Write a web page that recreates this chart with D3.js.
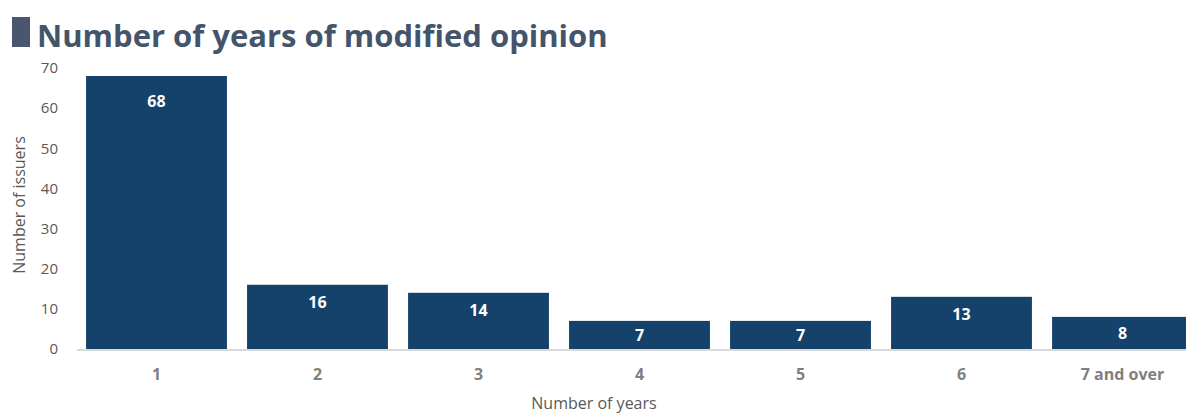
<!DOCTYPE html>
<html>
<head>
<meta charset="utf-8">
<script src="https://cdn.jsdelivr.net/npm/d3@7"></script>
<style>
  body { margin: 0; background: #fff; }
  svg { display: block; font-family: "Open Sans", sans-serif; }
</style>
</head>
<body>
<svg id="chart" width="1186" height="414"></svg>
<script>
const categories = ["1", "2", "3", "4", "5", "6", "7 and over"]
const issuers = [68, 16, 14, 7, 7, 13, 8]
const yTicks = [0, 10, 20, 30, 40, 50, 60, 70]

const width = 1186, height = 414
const svg = d3.select('#chart')

// titre
svg.append('rect')
    .attr('x', 12).attr('y', 17).attr('width', 18).attr('height', 30)
    .attr('fill', '#4a5670')
svg.append('text')
    .attr('x', 37).attr('y', 47)
    .attr('font-size', 31).attr('font-weight', 700)
    .attr('fill', '#44546a')
    .text('Number of years of modified opinion')

const x = d3.scaleBand()
    .domain(categories)
    .range([76, 1203])
    .paddingInner(0.125)
    .paddingOuter(0.0625)

const y = d3.scaleLinear()
    .domain([0, 70])
    .range([349, 68])

// barres
svg.append('g')
    .selectAll('rect')
    .data(issuers)
    .join('rect')
    .attr('x', (d, i) => x(categories[i]))
    .attr('y', d => y(d))
    .attr('width', x.bandwidth())
    .attr('height', d => y(0) - y(d))
    .attr('fill', '#15426a')

// étiquettes de valeur
svg.append('g')
    .selectAll('text')
    .data(issuers)
    .join('text')
    .attr('x', (d, i) => x(categories[i]) + x.bandwidth() / 2)
    .attr('y', d => Math.min(y(d) + (d > 30 ? 31 : 23), (y(d) + y(0)) / 2 + 6))
    .attr('text-anchor', 'middle')
    .attr('font-size', 16).attr('font-weight', 700)
    .attr('fill', '#fff')
    .text(d => d)

// axe y
const yAxis = svg.append('g')
    .attr('transform', 'translate(64,0)')
    .call(d3.axisLeft(y).tickValues(yTicks).tickSize(0).tickPadding(6))
yAxis.select('.domain').remove()
yAxis.selectAll('text')
    .attr('font-family', '"Open Sans", sans-serif')
    .attr('font-size', 15).attr('fill', '#595959')

// axe x
svg.append('line')
    .attr('x1', 77).attr('x2', width)
    .attr('y1', y(0) + 1).attr('y2', y(0) + 1)
    .attr('stroke', '#d9d9d9').attr('stroke-width', 2)

const xAxis = svg.append('g')
    .attr('transform', `translate(0,${y(0)})`)
    .call(d3.axisBottom(x).tickSize(0).tickPadding(20))
xAxis.select('.domain').remove()
xAxis.selectAll('text')
    .attr('font-family', '"Open Sans", sans-serif')
    .attr('font-size', 16).attr('font-weight', 700)
    .attr('fill', '#7f7f7f')

// titres des axes
svg.append('text')
    .attr('x', 594).attr('y', 409)
    .attr('text-anchor', 'middle')
    .attr('font-size', 16).attr('fill', '#595959')
    .text('Number of years')

svg.append('text')
    .attr('transform', 'translate(25,205) rotate(-90)')
    .attr('text-anchor', 'middle')
    .attr('font-size', 16).attr('fill', '#595959')
    .text('Number of issuers')
</script>
</body>
</html>
